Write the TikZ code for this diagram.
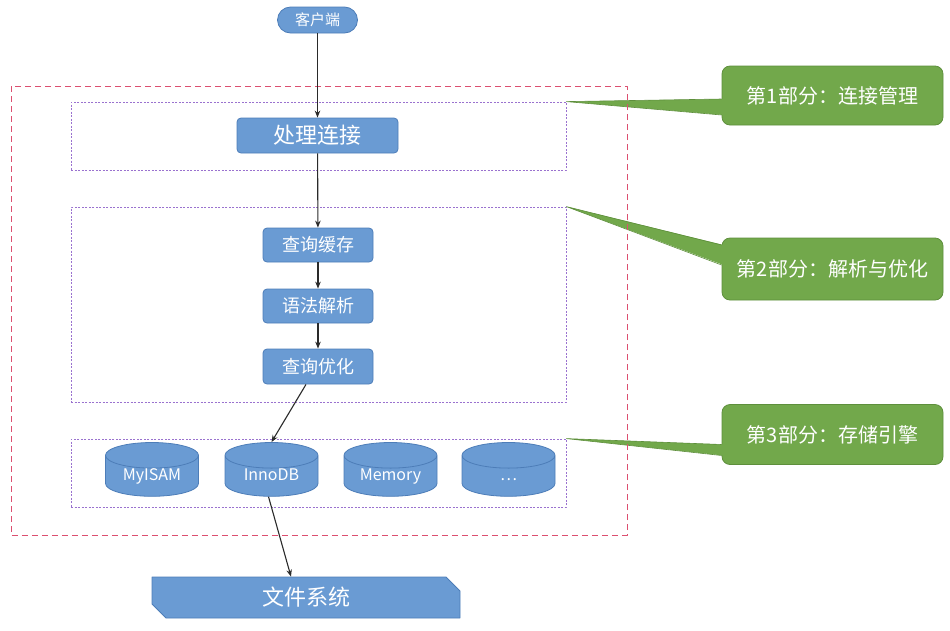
\documentclass[tikz,border=0pt]{standalone}
\usepackage{fontspec}
\setmainfont{Noto Sans CJK SC}
\usetikzlibrary{shapes.geometric,shapes.misc,arrows.meta,calc}

\definecolor{boxblue}{HTML}{6A9BD3}
\definecolor{blueline}{HTML}{4D7DB8}
\definecolor{notegreen}{HTML}{72A84B}
\definecolor{noteline}{HTML}{5E8F3C}
\definecolor{framered}{HTML}{DC4F70}
\definecolor{partpurple}{HTML}{9A72CF}
\definecolor{arrowgray}{HTML}{2A2A2A}

\tikzset{
  stepbox/.style={draw=blueline, fill=boxblue, text=white, rounded corners=4pt,
    inner sep=0pt, line width=0.8pt},
  engine/.style={cylinder, shape border rotate=90, aspect=0.32, draw=blueline,
    fill=boxblue, text=white, minimum width=93pt, minimum height=48pt,
    text height=12pt, text depth=3pt, text width=80pt, align=center,
    inner sep=0pt, line width=0.8pt, font=\fontsize{16}{16}\selectfont},
  partbox/.style={draw=partpurple, dash pattern=on 2pt off 1.5pt, line width=0.8pt,
    inner sep=0pt, minimum width=495pt},
  note/.style={draw=noteline, fill=notegreen, text=white, rounded corners=8pt,
    inner sep=0pt, minimum width=221pt, line width=0.8pt,
    font=\fontsize{20}{20}\selectfont},
  flow/.style={-{Stealth[length=7pt,width=5.5pt]}, line width=1.1pt, draw=arrowgray},
}

\begin{document}
\begin{tikzpicture}[x=1pt, y=-1pt, line join=round]

  \useasboundingbox (0,0) rectangle (950,630);

  % three parts
  \node[partbox, minimum height=68pt]  (part1) at (318.5,136) {};
  \node[partbox, minimum height=195pt] (part2) at (318.5,304.5) {};
  \node[partbox, minimum height=68pt]  (part3) at (318.5,473) {};

  % client and the steps
  \node[stepbox, rounded corners=13pt, minimum width=80pt, minimum height=26pt,
    font=\fontsize{15}{15}\selectfont] (client) at (317.5,20) {客户端};
  \node[stepbox, minimum width=161pt, minimum height=35pt,
    font=\fontsize{22}{22}\selectfont] (conn) at (317.5,135.5) {处理连接};
  \node[stepbox, minimum width=110pt, minimum height=34pt,
    font=\fontsize{18}{18}\selectfont] (cache) at (318,245) {查询缓存};
  \node[stepbox, minimum width=110pt, minimum height=34pt,
    font=\fontsize{18}{18}\selectfont] (parse) at (318,306) {语法解析};
  \node[stepbox, minimum width=110pt, minimum height=35pt,
    font=\fontsize{18}{18}\selectfont] (opt) at (318,366.5) {查询优化};

  % storage engines
  \node[engine] (myisam) at (152,476)   {MyISAM};
  \node[engine] (innodb) at (271.5,476) {InnoDB};
  \node[engine] (memory) at (390.5,476) {Memory};
  \node[engine] (more)   at (508.5,476) {⋯};

  \node[chamfered rectangle, chamfered rectangle corners={north east,south west},
    chamfered rectangle sep=7pt, draw=blueline, fill=boxblue, text=white,
    minimum width=308pt, minimum height=41pt, inner sep=0pt, line width=0.8pt,
    font=\fontsize{22}{22}\selectfont] (fs) at (306,597.5) {文件系统};

  % notes
  \node[note, minimum height=59pt] (note1) at (832.5,95.5) {第1部分：连接管理};
  \node[note, minimum height=62pt] (note2) at (832.5,269)  {第2部分：解析与优化};
  \node[note, minimum height=60pt] (note3) at (832.5,434.5) {第3部分：存储引擎};

  \fill[notegreen] ($(note1.west)+(2,3.5)$) -- (part1.north east) -- ($(note1.west)+(2,19.5)$) -- cycle;
  \draw[noteline, line width=0.6pt] ($(note1.west)+(0,3.5)$) -- (part1.north east) -- ($(note1.west)+(0,19.5)$);
  \fill[notegreen] ($(note2.west)+(2,-24)$) -- (part2.north east) -- ($(note2.west)+(2,-4)$) -- cycle;
  \draw[noteline, line width=0.6pt] ($(note2.west)+(0,-24)$) -- (part2.north east) -- ($(note2.west)+(0,-4)$);
  \fill[notegreen] ($(note3.west)+(2,10)$) -- (part3.north east) -- ($(note3.west)+(2,21)$) -- cycle;
  \draw[noteline, line width=0.6pt] ($(note3.west)+(0,10)$) -- (part3.north east) -- ($(note3.west)+(0,21)$);

  % whole server
  \draw[framered, dash pattern=on 6pt off 4pt, line width=0.9pt] (11,86) rectangle (627,535);

  \draw[flow] (client) -- (conn);
  \draw[flow] (conn) -- (cache);
  \draw[flow] (cache) -- (parse);
  \draw[flow] (parse) -- (opt);
  \draw[flow] ($(opt.south)+(-12,0)$) -- (innodb.north);
  \draw[flow] ($(innodb.south)+(-3,0)$) -- ($(fs.north)+(-15,0)$);

\end{tikzpicture}
\end{document}
